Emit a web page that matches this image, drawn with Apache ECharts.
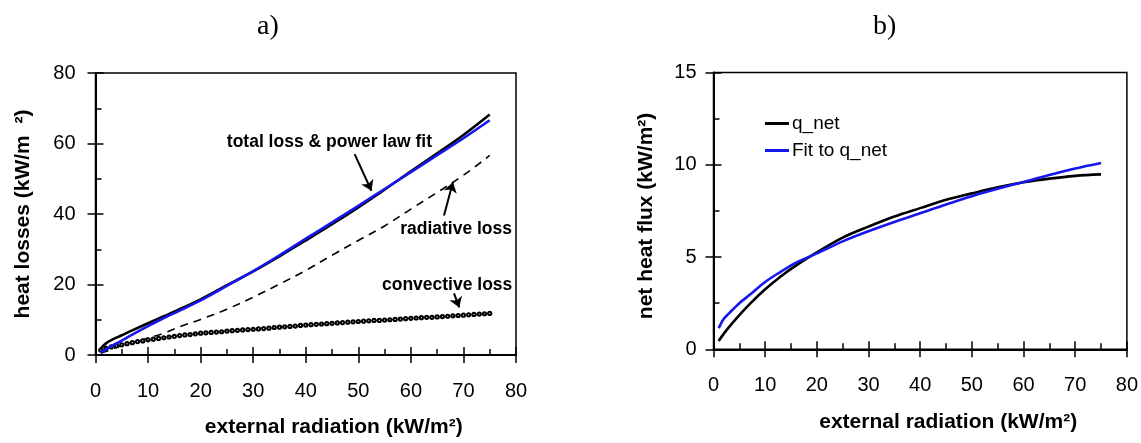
<!DOCTYPE html>
<html>
<head>
<meta charset="utf-8">
<script src="https://cdn.jsdelivr.net/npm/echarts@6/dist/echarts.min.js"></script>
<style>
  html, body { margin: 0; padding: 0; background: #fff; }
  #main { width: 1141px; height: 443px; }
</style>
</head>
<body>
<div id="main"></div>
<script>
// ---- panel a) heat losses vs external radiation ----
const lossX      = [1, 2, 3, 5, 7, 10, 13, 16, 20, 25, 30, 35, 40, 45, 50, 55, 60, 65, 70, 75];
const totalLoss  = [1.9, 3.3, 4.2, 5.6, 7.0, 9.0, 11.0, 13.0, 15.8, 19.8, 23.7, 28.0, 32.5, 37.1, 41.9, 46.9, 52.1, 57.2, 62.4, 68.2];
const powerFit   = [0.7, 1.6, 2.5, 4.1, 5.8, 8.2, 10.5, 12.6, 15.5, 19.6, 23.8, 28.3, 33.0, 37.6, 42.3, 47.1, 51.9, 56.7, 61.5, 66.6];

const radX       = [1, 3, 5, 7, 10, 13, 16, 20, 25, 30, 35, 40, 45, 50, 55, 60, 65, 70, 75];
const radiative  = [0.5, 1.6, 2.7, 3.6, 4.8, 6.2, 8.0, 10.1, 13.0, 16.4, 20.1, 24.0, 28.3, 32.5, 36.6, 41.4, 46.1, 51.0, 56.6];

// convective loss sampled at x = 1, 2, 3 … 75 kW/m²
const convective = [1.4, 1.9, 2.3, 2.6, 2.9, 3.2, 3.5, 3.8, 4.0, 4.3,
                    4.5, 4.7, 4.9, 5.1, 5.3, 5.5, 5.7, 5.8, 6.0, 6.2,
                    6.3, 6.4, 6.5, 6.6, 6.8, 6.9, 7.0, 7.1, 7.2, 7.3,
                    7.4, 7.5, 7.6, 7.8, 7.9, 8.0, 8.1, 8.2, 8.4, 8.5,
                    8.6, 8.7, 8.8, 8.9, 9.0, 9.1, 9.2, 9.3, 9.4, 9.5,
                    9.6, 9.7, 9.8, 9.8, 9.9, 10.0, 10.1, 10.2, 10.3, 10.4,
                    10.5, 10.6, 10.7, 10.7, 10.8, 10.9, 11.0, 11.1, 11.2, 11.3,
                    11.4, 11.5, 11.6, 11.7, 11.8];

// ---- panel b) net heat flux ----
const netX  = [1, 2, 3, 5, 7, 10, 13, 16, 20, 25, 30, 35, 40, 45, 50, 55, 60, 65, 70, 75];
const qNet  = [0.45, 0.85, 1.2, 1.85, 2.45, 3.25, 3.95, 4.55, 5.25, 6.05, 6.65, 7.2, 7.65, 8.1, 8.45, 8.78, 9.05, 9.25, 9.4, 9.48];
const qFit  = [1.15, 1.65, 1.95, 2.5, 2.95, 3.65, 4.2, 4.7, 5.2, 5.85, 6.4, 6.9, 7.37, 7.85, 8.3, 8.7, 9.07, 9.45, 9.8, 10.1];

// axis ranges
const xRange = { min: 0, max: 80, interval: 10 };
const yRangeA = { min: 0, max: 80, interval: 20 };
const yRangeB = { min: 0, max: 15, interval: 5 };

// annotation texts and arrows for panel a) (data coordinates)
const notes = [
  { name: 'total loss & power law fit', coord: [44.5, 60.4] },
  { name: 'radiative loss',             coord: [68.6, 35.6] },
  { name: 'convective loss',            coord: [66.9, 19.9] }
];
const arrows = [
  [[49.3, 57.0], [52.5, 46.6]],
  [[66.3, 39.6], [68.0, 49.0]],
  [[68.2, 17.5], [69.2, 13.5]]
];

const SANS = '"Liberation Sans", Arial, Helvetica, sans-serif';
const SERIF = '"Liberation Serif", "Times New Roman", serif';
const BLUE = '#1616ee';
const zip = (xs, ys) => xs.map((x, i) => [x, ys[i]]);

const tickStyle = { color: '#000', width: 1.5 };

// outer axis: line, labels, name and outward half of major ticks
function outerAxis(grid, range, extra) {
  return Object.assign({
    gridIndex: grid, type: 'value',
    min: range.min, max: range.max, interval: range.interval,
    axisLine: { show: true, onZero: false, lineStyle: { color: '#000', width: 2 } },
    axisTick: { show: true, inside: false, length: 8, lineStyle: tickStyle },
    minorTick: { show: false },
    splitLine: { show: false },
    nameLocation: 'middle'
  }, extra);
}
// inner axis: inward major ticks plus minor ticks
function innerAxis(grid, range, pos) {
  return {
    gridIndex: grid, type: 'value', position: pos, offset: 0,
    min: range.min, max: range.max, interval: range.interval,
    axisLine: { show: false },
    axisLabel: { show: false },
    axisTick: { show: true, inside: true, length: 8, lineStyle: tickStyle },
    minorTick: { show: true, splitNumber: 2, length: 6, lineStyle: tickStyle },
    splitLine: { show: false },
    minorSplitLine: { show: false }
  };
}

const labelStyle = (margin) => ({ margin: margin, fontSize: 20, color: '#000', fontFamily: SANS });
const nameStyle = (pad) => ({ fontSize: 21, fontWeight: 'bold', color: '#000', fontFamily: SANS, padding: pad });

const chart = echarts.init(document.getElementById('main'), null, { renderer: 'canvas' });

chart.setOption({
  animation: false,
  backgroundColor: '#fff',
  graphic: [
    { type: 'text', left: 257, top: 13, style: { text: 'a)', font: '28px ' + SERIF, fill: '#000' } },
    { type: 'text', left: 873, top: 13, style: { text: 'b)', font: '28px ' + SERIF, fill: '#000' } }
  ],
  grid: [
    { left: 95.5, top: 73, width: 420.5, height: 284.3, show: true, borderColor: '#000', borderWidth: 1.5, backgroundColor: 'transparent' },
    { left: 713.5, top: 72.5, width: 413.5, height: 276.8, show: true, borderColor: '#000', borderWidth: 1.5, backgroundColor: 'transparent' }
  ],
  legend: {
    data: ['q_net', 'Fit to q_net'],
    orient: 'vertical', left: 760, top: 109,
    icon: 'rect', itemWidth: 24, itemHeight: 3, itemGap: 8,
    textStyle: { fontSize: 19, color: '#000', fontFamily: SANS, padding: [0, 0, 0, -2] },
    selectedMode: false
  },
  xAxis: [
    outerAxis(0, xRange, { position: 'bottom', axisLabel: labelStyle(26),
      name: 'external radiation (kW/m²)', nameGap: 62, nameTextStyle: nameStyle([0, 0, 0, 56]) }),
    innerAxis(0, xRange, 'bottom'),
    outerAxis(1, xRange, { position: 'bottom', axisLabel: labelStyle(26),
      name: 'external radiation (kW/m²)', nameGap: 62, nameTextStyle: nameStyle([0, 0, 0, 56]) }),
    innerAxis(1, xRange, 'bottom')
  ],
  yAxis: [
    outerAxis(0, yRangeA, { position: 'left', axisLabel: labelStyle(20),
      name: 'heat losses (kW/m  ²)', nameGap: 62, nameTextStyle: nameStyle([0, 0, 0, 0]) }),
    innerAxis(0, yRangeA, 'left'),
    outerAxis(1, yRangeB, { position: 'left', axisLabel: labelStyle(17),
      name: 'net heat flux (kW/m²)', nameGap: 57, nameTextStyle: nameStyle([0, 10, 0, 0]) }),
    innerAxis(1, yRangeB, 'left')
  ],
  series: [
    {
      name: 'convective loss', type: 'line', xAxisIndex: 0, yAxisIndex: 0,
      data: convective.map((v, i) => [i + 1, v]),
      symbol: 'emptyCircle', symbolSize: 3.2, showSymbol: true,
      itemStyle: { color: '#000', borderColor: '#000', borderWidth: 0.8 },
      lineStyle: { color: '#000', width: 0.8 },
      z: 3
    },
    {
      name: 'radiative loss', type: 'line', xAxisIndex: 0, yAxisIndex: 0,
      data: zip(radX, radiative), smooth: 0.35, showSymbol: false, symbol: 'none',
      lineStyle: { color: '#000', width: 1.6, type: [8, 6] },
      silent: true, z: 3,
      markPoint: {
        silent: true, symbol: 'rect', symbolSize: 1,
        itemStyle: { color: 'rgba(0,0,0,0)' },
        label: { show: true, position: 'inside', formatter: '{b}', color: '#000',
                 fontSize: 17.5, fontWeight: 'bold', fontFamily: SANS },
        data: notes.map(n => ({ name: n.name, coord: n.coord }))
      },
      markLine: {
        silent: true, symbol: ['none', 'arrow'], symbolSize: 10,
        lineStyle: { color: '#000', width: 2, type: 'solid' },
        label: { show: false },
        data: arrows.map(a => [{ coord: a[0] }, { coord: a[1] }])
      }
    },
    {
      name: 'total loss', type: 'line', xAxisIndex: 0, yAxisIndex: 0,
      data: zip(lossX, totalLoss), smooth: 0.35, showSymbol: false, symbol: 'none',
      lineStyle: { color: '#000', width: 2.6 }, silent: true, z: 4
    },
    {
      name: 'power law fit', type: 'line', xAxisIndex: 0, yAxisIndex: 0,
      data: zip(lossX, powerFit), smooth: 0.35, showSymbol: false, symbol: 'none',
      lineStyle: { color: BLUE, width: 2.6 }, silent: true, z: 5
    },
    {
      name: 'q_net', type: 'line', xAxisIndex: 2, yAxisIndex: 2,
      data: zip(netX, qNet), smooth: 0.35, showSymbol: false, symbol: 'none',
      itemStyle: { color: '#000' },
      lineStyle: { color: '#000', width: 2.6 }, silent: true, z: 4
    },
    {
      name: 'Fit to q_net', type: 'line', xAxisIndex: 2, yAxisIndex: 2,
      data: zip(netX, qFit), smooth: 0.35, showSymbol: false, symbol: 'none',
      itemStyle: { color: BLUE },
      lineStyle: { color: BLUE, width: 2.6 }, silent: true, z: 5
    }
  ]
});
</script>
</body>
</html>
